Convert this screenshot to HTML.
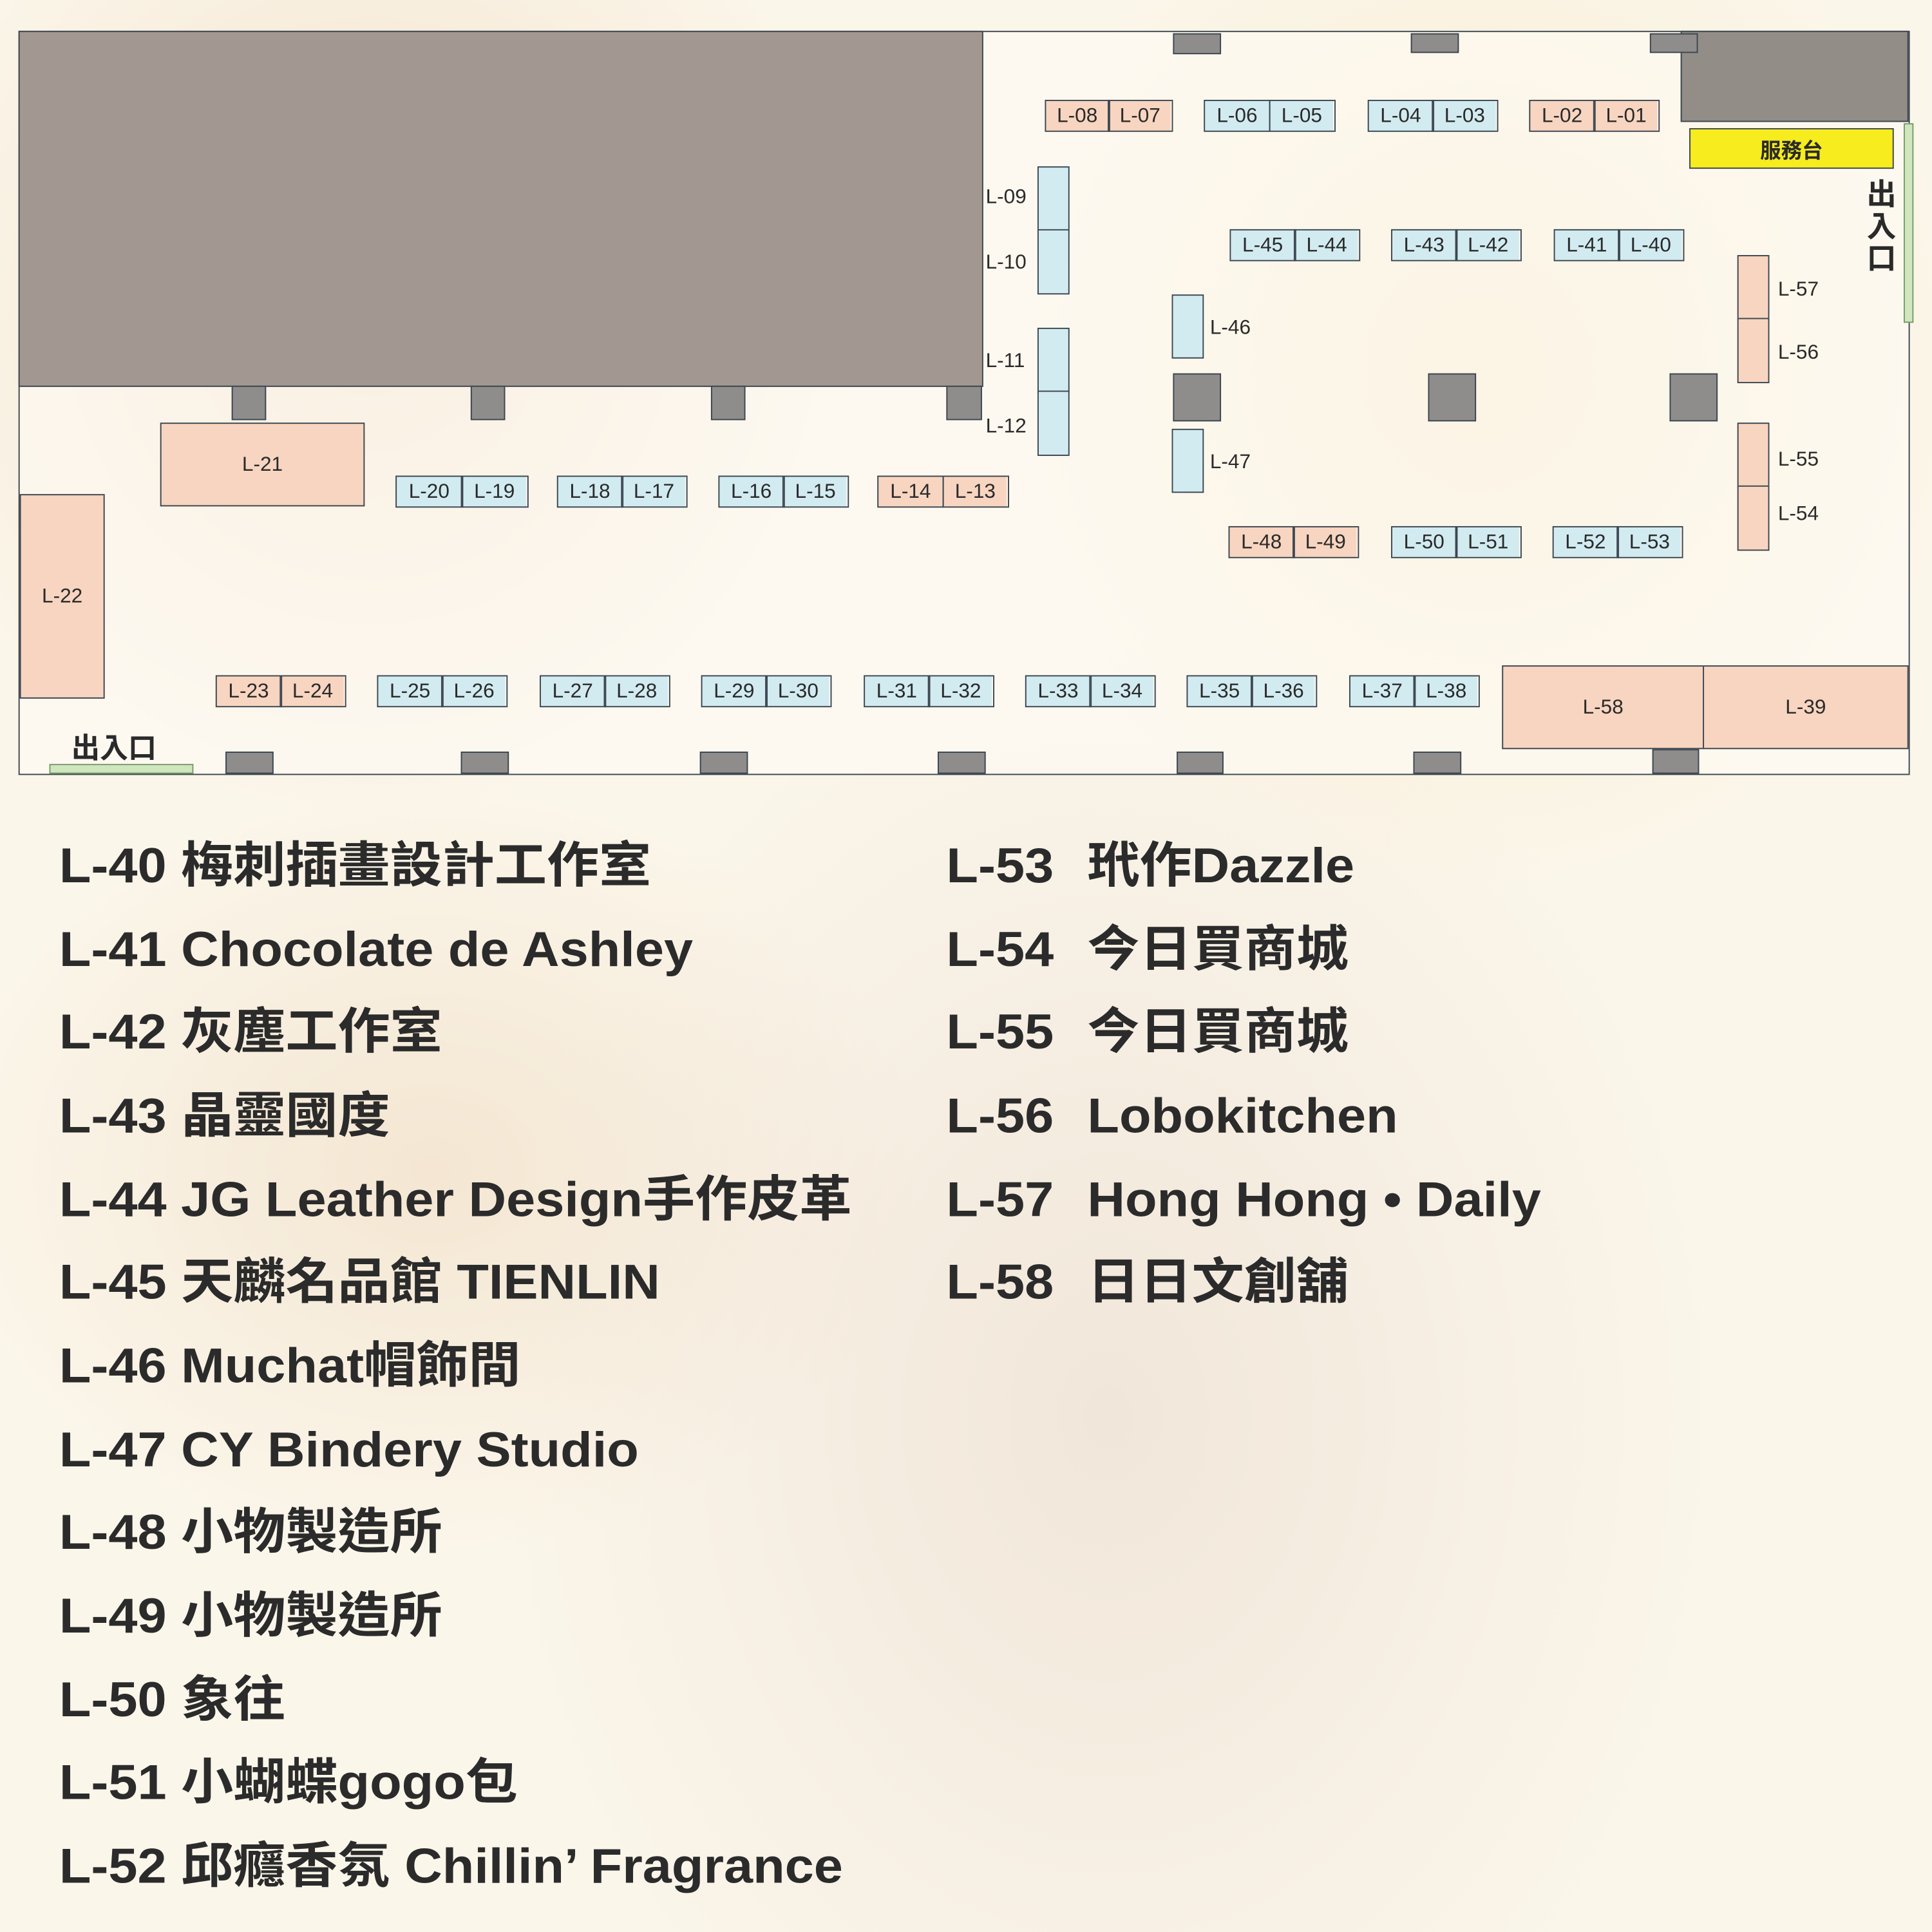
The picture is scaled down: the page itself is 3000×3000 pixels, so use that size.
<!DOCTYPE html>
<html><head><meta charset="utf-8">
<style>
html,body{margin:0;padding:0;width:3000px;height:3000px;overflow:hidden;background:#fbf5e8;}
#s{position:absolute;left:0;top:0;width:1568px;height:1568px;transform:scale(1.91327);transform-origin:0 0;font-family:"Liberation Sans","Noto Sans CJK TC",sans-serif;color:#2a2a2a;
background:radial-gradient(ellipse at 300px 250px,#f3e2cc 0,transparent 400px),radial-gradient(ellipse at 1200px 300px,#f8ecd0 0,transparent 400px),radial-gradient(ellipse at 900px 1150px,#f1e6da 0,transparent 500px),radial-gradient(ellipse at 350px 950px,#f4e6d2 0,transparent 400px),#fbf6ea;}
.a{position:absolute;box-sizing:border-box;}
.g{background:#8f8d8b;border:1.5px solid #3c4650;}
.b{border:1.5px solid #3c4650;font-size:16.5px;display:flex;align-items:center;justify-content:center;}
.p{background:#f7d5c0;}.c{background:#d2ebf1;}
.pr{position:absolute;display:flex;height:26px;box-sizing:border-box;}
.pr span{flex:1;border:1.5px solid #3c4650;box-sizing:border-box;font-size:16.5px;display:flex;align-items:center;justify-content:center;margin-right:-1.5px;}
.lb{position:absolute;font-size:16.5px;}
.l{position:absolute;font-size:40px;font-weight:bold;line-height:40px;white-space:nowrap;color:#2b2b2b;transform:scaleX(1.06);transform-origin:0 0;}
.l i{font-style:normal;position:absolute;left:108px;}
</style></head><body><div id="s">
<div class="a" style="left:15px;top:25px;width:1535px;height:604px;border:1.5px solid #3c4650;background:rgba(255,252,245,0.55)"></div>
<div class="a g" style="left:15px;top:25px;width:783px;height:289px;background:#a29891"></div>
<div class="a g" style="left:1364px;top:25px;width:185px;height:74px;background:#928d86"></div>
<div class="a g" style="left:952px;top:27px;width:39px;height:17px"></div>
<div class="a g" style="left:1145px;top:27px;width:39px;height:16px"></div>
<div class="a g" style="left:1339px;top:27px;width:39px;height:16px"></div>
<div class="a b" style="left:1371px;top:104px;width:166px;height:33px;background:#f6ec1e;font-size:17px;font-weight:bold">服務台</div>
<div class="a" style="left:1545px;top:100px;width:8px;height:162px;background:#cfe6bf;border:1px solid #7a9a6a"></div>
<div class="a" style="left:1514px;top:146px;width:26px;font-size:24px;font-weight:bold;line-height:26px;text-align:center">出<br>入<br>口</div>

<div class="pr p" style="left:848px;top:81px;width:102px"><span>L-08</span><span>L-07</span></div>
<div class="pr c" style="left:977px;top:81px;width:105px"><span>L-06</span><span>L-05</span></div>
<div class="pr c" style="left:1110px;top:81px;width:104px"><span>L-04</span><span>L-03</span></div>
<div class="pr p" style="left:1241px;top:81px;width:104px"><span>L-02</span><span>L-01</span></div>

<div class="a b c" style="left:842px;top:135px;width:26px;height:53px"></div>
<div class="a b c" style="left:842px;top:186px;width:26px;height:53px"></div>
<div class="a b c" style="left:842px;top:266px;width:26px;height:53px"></div>
<div class="a b c" style="left:842px;top:317px;width:26px;height:53px"></div>
<div class="lb" style="left:800px;top:151px">L-09</div>
<div class="lb" style="left:800px;top:204px">L-10</div>
<div class="lb" style="left:800px;top:284px">L-11</div>
<div class="lb" style="left:800px;top:337px">L-12</div>

<div class="pr c" style="left:998px;top:186px;width:104px"><span>L-45</span><span>L-44</span></div>
<div class="pr c" style="left:1129px;top:186px;width:104px"><span>L-43</span><span>L-42</span></div>
<div class="pr c" style="left:1261px;top:186px;width:104px"><span>L-41</span><span>L-40</span></div>

<div class="a b c" style="left:951px;top:239px;width:26px;height:52px"></div>
<div class="lb" style="left:982px;top:257px">L-46</div>
<div class="a g" style="left:952px;top:303px;width:39px;height:39px"></div>
<div class="a b c" style="left:951px;top:348px;width:26px;height:52px"></div>
<div class="lb" style="left:982px;top:366px">L-47</div>
<div class="a g" style="left:1159px;top:303px;width:39px;height:39px"></div>
<div class="a g" style="left:1355px;top:303px;width:39px;height:39px"></div>

<div class="a b p" style="left:1410px;top:207px;width:26px;height:53px"></div>
<div class="a b p" style="left:1410px;top:258px;width:26px;height:53px"></div>
<div class="a b p" style="left:1410px;top:343px;width:26px;height:53px"></div>
<div class="a b p" style="left:1410px;top:394px;width:26px;height:53px"></div>
<div class="lb" style="left:1443px;top:226px">L-57</div>
<div class="lb" style="left:1443px;top:277px">L-56</div>
<div class="lb" style="left:1443px;top:364px">L-55</div>
<div class="lb" style="left:1443px;top:408px">L-54</div>

<div class="pr p" style="left:997px;top:427px;width:104px"><span>L-48</span><span>L-49</span></div>
<div class="pr c" style="left:1129px;top:427px;width:104px"><span>L-50</span><span>L-51</span></div>
<div class="pr c" style="left:1260px;top:427px;width:104px"><span>L-52</span><span>L-53</span></div>

<div class="a g" style="left:188px;top:313px;width:28px;height:28px"></div>
<div class="a g" style="left:382px;top:313px;width:28px;height:28px"></div>
<div class="a g" style="left:577px;top:313px;width:28px;height:28px"></div>
<div class="a g" style="left:768px;top:313px;width:29px;height:28px"></div>

<div class="a b p" style="left:130px;top:343px;width:166px;height:68px">L-21</div>
<div class="pr c" style="left:321px;top:386px;width:106px"><span>L-20</span><span>L-19</span></div>
<div class="pr c" style="left:452px;top:386px;width:104px"><span>L-18</span><span>L-17</span></div>
<div class="pr c" style="left:583px;top:386px;width:104px"><span>L-16</span><span>L-15</span></div>
<div class="pr p" style="left:712px;top:386px;width:105px"><span>L-14</span><span>L-13</span></div>

<div class="a b p" style="left:16px;top:401px;width:69px;height:166px">L-22</div>

<div class="pr p" style="left:175px;top:548px;width:104px"><span>L-23</span><span>L-24</span></div>
<div class="pr c" style="left:306px;top:548px;width:104px"><span>L-25</span><span>L-26</span></div>
<div class="pr c" style="left:438px;top:548px;width:104px"><span>L-27</span><span>L-28</span></div>
<div class="pr c" style="left:569px;top:548px;width:104px"><span>L-29</span><span>L-30</span></div>
<div class="pr c" style="left:701px;top:548px;width:104px"><span>L-31</span><span>L-32</span></div>
<div class="pr c" style="left:832px;top:548px;width:104px"><span>L-33</span><span>L-34</span></div>
<div class="pr c" style="left:963px;top:548px;width:104px"><span>L-35</span><span>L-36</span></div>
<div class="pr c" style="left:1095px;top:548px;width:104px"><span>L-37</span><span>L-38</span></div>

<div class="a b p" style="left:1219px;top:540px;width:164px;height:68px">L-58</div>
<div class="a b p" style="left:1382px;top:540px;width:167px;height:68px">L-39</div>

<div class="a g" style="left:183px;top:610px;width:39px;height:18px"></div>
<div class="a g" style="left:374px;top:610px;width:39px;height:18px"></div>
<div class="a g" style="left:568px;top:610px;width:39px;height:18px"></div>
<div class="a g" style="left:761px;top:610px;width:39px;height:18px"></div>
<div class="a g" style="left:955px;top:610px;width:38px;height:18px"></div>
<div class="a g" style="left:1147px;top:610px;width:39px;height:18px"></div>
<div class="a g" style="left:1341px;top:608px;width:38px;height:20px"></div>

<div class="a" style="left:58px;top:588px;font-size:23px;font-weight:bold">出入口</div>
<div class="a" style="left:40px;top:620px;width:117px;height:8px;background:#cfe6bf;border:1px solid #7a9a6a"></div>

<div class="l" style="left:48px;top:683px">L-40 梅刺插畫設計工作室</div>
<div class="l" style="left:48px;top:751px">L-41 Chocolate de Ashley</div>
<div class="l" style="left:48px;top:818px">L-42 灰塵工作室</div>
<div class="l" style="left:48px;top:886px">L-43 晶靈國度</div>
<div class="l" style="left:48px;top:954px">L-44 JG Leather Design手作皮革</div>
<div class="l" style="left:48px;top:1021px">L-45 天麟名品館 TIENLIN</div>
<div class="l" style="left:48px;top:1089px">L-46 Muchat帽飾間</div>
<div class="l" style="left:48px;top:1157px">L-47 CY Bindery Studio</div>
<div class="l" style="left:48px;top:1224px">L-48 小物製造所</div>
<div class="l" style="left:48px;top:1292px">L-49 小物製造所</div>
<div class="l" style="left:48px;top:1360px">L-50 象往</div>
<div class="l" style="left:48px;top:1427px">L-51 小蝴蝶gogo包</div>
<div class="l" style="left:48px;top:1495px">L-52 邱癮香氛 Chillin’ Fragrance</div>

<div class="l" style="left:768px;top:683px">L-53<i>玳作Dazzle</i></div>
<div class="l" style="left:768px;top:751px">L-54<i>今日買商城</i></div>
<div class="l" style="left:768px;top:818px">L-55<i>今日買商城</i></div>
<div class="l" style="left:768px;top:886px">L-56<i>Lobokitchen</i></div>
<div class="l" style="left:768px;top:954px">L-57<i>Hong Hong • Daily</i></div>
<div class="l" style="left:768px;top:1021px">L-58<i>日日文創舖</i></div>
</div></body></html>
